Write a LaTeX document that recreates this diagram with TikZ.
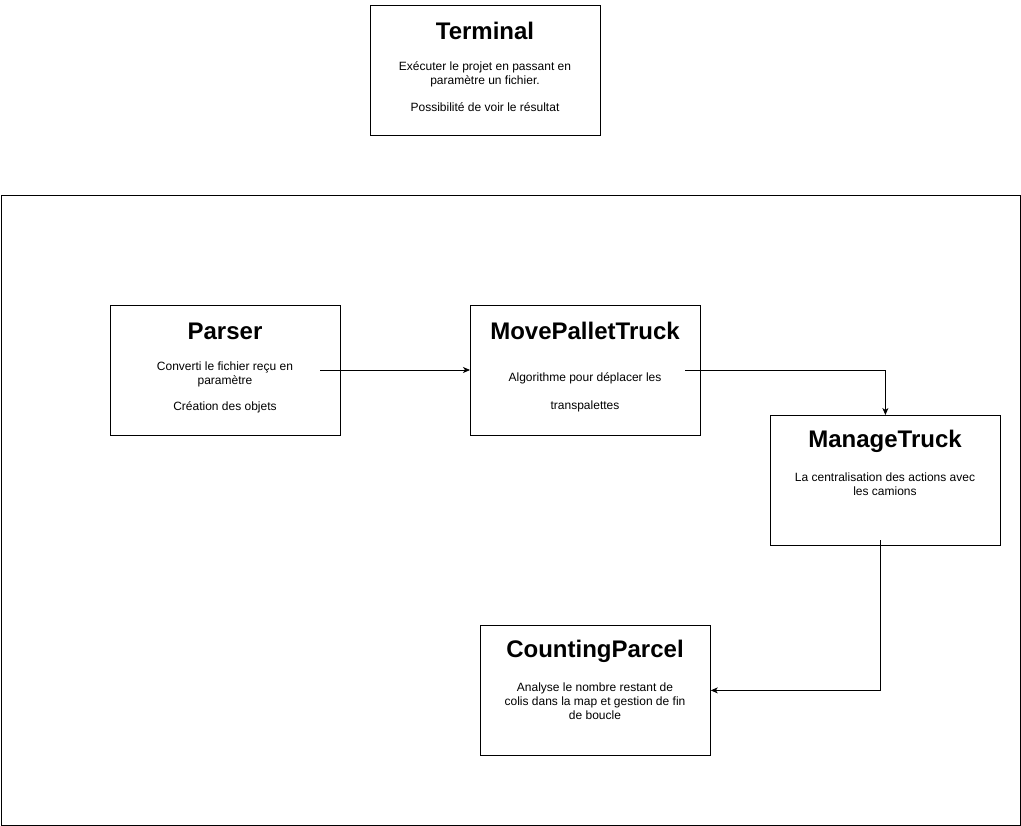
\documentclass[tikz,border=0pt]{standalone}
\usepackage{fontspec}
\setmainfont{Liberation Sans}
\usetikzlibrary{arrows.meta}
\begin{document}
\begin{tikzpicture}[x=1pt,y=-1pt,
  box/.style={draw=black,line width=0.8pt,minimum width=230pt,minimum height=130pt,inner sep=0pt,anchor=north west},
  title/.style={font=\fontsize{24}{28}\selectfont\bfseries,inner sep=0pt,anchor=center},
  body/.style={font=\fontsize{12}{14}\selectfont,align=center,inner sep=0pt,anchor=center},
  conn/.style={draw=black,line width=0.8pt,-{Stealth[length=7pt,width=6pt,inset=2pt]}}]
\useasboundingbox (0,0) rectangle (1021,826);
\node[draw=black,line width=0.8pt,minimum width=1019pt,minimum height=630pt,inner sep=0pt,anchor=north west] (frame) at (0.5,195) {};
% Terminal
\node[box] (term) at (370,5) {};
\node[title] (termt) at (485,31) {Terminal};
\node[body] (termb1) at (485,74) {Exécuter le projet en passant en\\paramètre un fichier.};
\node[body] (termb2) at (485,107) {Possibilité de voir le résultat};
% Parser
\node[box] (pars) at (110,305) {};
\node[title] (parst) at (225,331) {Parser};
\node[body] (parsb1) at (225,374) {Converti le fichier reçu en\\paramètre};
\node[body] (parsb2) at (225,407) {Création des objets};
% MovePalletTruck
\node[box] (mpt) at (470,305) {};
\node[title] (mptt) at (585,331) {MovePalletTruck};
\node[body] (mptb1) at (585,378) {Algorithme pour déplacer les};
\node[body] (mptb2) at (585,406) {transpalettes};
% ManageTruck
\node[box] (mgt) at (770,415) {};
\node[title] (mgtt) at (885,441) {ManageTruck};
\node[body] (mgtb) at (885,484) {La centralisation des actions avec\\les camions};
% CountingParcel
\node[box] (cp) at (480,625) {};
\node[title] (cpt) at (595,651) {CountingParcel};
\node[body] (cpb) at (595,701) {Analyse le nombre restant de\\colis dans la map et gestion de fin\\de boucle};
% connectors
\coordinate (s1) at (320,370);
\coordinate (s2) at (685,370);
\coordinate (s3) at (880,540);
\draw[conn] (s1) -- (s1 -| mpt.west);
\draw[conn] (s2) -| (mgt.north);
\draw[conn] (s3) |- (cp.east);
\end{tikzpicture}
\end{document}
